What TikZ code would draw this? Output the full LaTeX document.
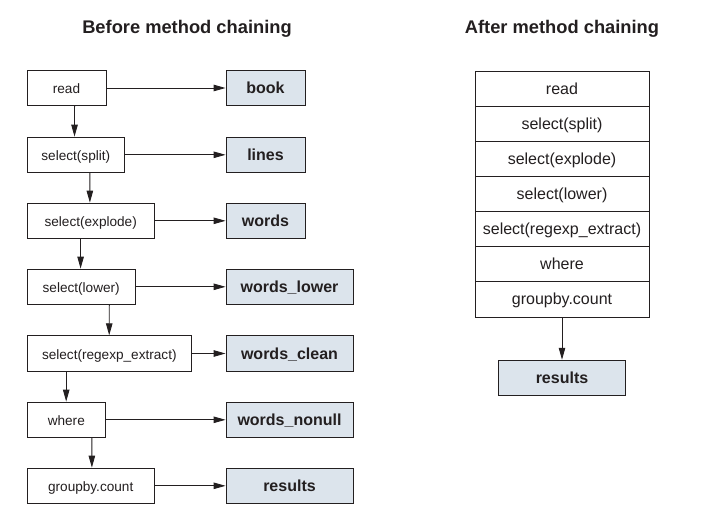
\documentclass[tikz,border=0pt]{standalone}
\usepackage{fontspec}
\setmainfont{Liberation Sans}
\usetikzlibrary{arrows.meta}
\definecolor{ink}{RGB}{35,31,32}
\definecolor{datafill}{RGB}{220,228,236}
\tikzset{
  box/.style={draw=ink, line width=0.9pt, inner sep=0pt, text=ink, text height=12pt, text depth=0pt},
  opbox/.style={box, fill=white, font=\fontsize{13.6}{16}\selectfont, minimum height=35.5pt},
  databox/.style={box, fill=datafill, font=\fontsize{16}{19}\selectfont\bfseries, minimum height=35.5pt},
  stackbox/.style={box, fill=white, font=\fontsize{16}{19}\selectfont, minimum width=174pt, minimum height=35.1pt, text height=11pt},
  arr/.style={draw=ink, line width=0.9pt, -{Triangle[length=12pt,width=6.5pt]}},
  title/.style={font=\fontsize{18.3}{22}\selectfont\bfseries, text=ink, inner sep=0pt}
}
\begin{document}
\begin{tikzpicture}[x=1pt,y=-1pt]
\useasboundingbox (0,0) rectangle (714,518);
% titles
\node[title] (t1) at (187,29) {Before method chaining};
\node[title] (t2) at (562,29) {After method chaining};
% left operation boxes
\node[opbox, minimum width=79pt]    (read)    at (66.5,88)   {read};
\node[opbox, minimum width=97.7pt]  (split)   at (75.8,154.8) {select(split)};
\node[opbox, minimum width=127.3pt] (explode) at (90.7,220.8) {select(explode)};
\node[opbox, minimum width=108.3pt] (lower)   at (81.2,286.8) {select(lower)};
\node[opbox, minimum width=164.7pt] (regexp)  at (109.3,353.5) {select(regexp\_extract)};
\node[opbox, minimum width=78.7pt]  (where)   at (66.3,419.8) {where};
\node[opbox, minimum width=127.3pt] (group)   at (90.7,485.8) {groupby.count};
% data boxes
\node[databox, minimum width=79pt]  (book)   at (265.5,88)    {book};
\node[databox, minimum width=79pt]  (lines)  at (265.5,154.8) {lines};
\node[databox, minimum width=79pt]  (words)  at (265.5,220.8) {words};
\node[databox, minimum width=127pt] (wlower) at (289.5,286.8) {words\_lower};
\node[databox, minimum width=127pt] (wclean) at (289.5,353.5) {words\_clean};
\node[databox, minimum width=127pt] (wnon)   at (289.5,419.8) {words\_nonull};
\node[databox, minimum width=127pt] (res1)   at (289.5,485.8) {results};
% horizontal arrows
\draw[arr] (read) -- (book);
\draw[arr] (split) -- (lines);
\draw[arr] (explode) -- (words);
\draw[arr] (lower) -- (wlower);
\draw[arr] (regexp) -- (wclean);
\draw[arr] (where) -- (wnon);
\draw[arr] (group) -- (res1);
% vertical arrows
\draw[arr] ([xshift=48pt]read.south west) -- ([xshift=48pt]split.north west);
\draw[arr] ([xshift=63.3pt]split.south west) -- ([xshift=63.3pt]explode.north west);
\draw[arr] ([xshift=54pt]explode.south west) -- ([xshift=54pt]lower.north west);
\draw[arr] ([xshift=82.7pt]lower.south west) -- ([xshift=82.7pt]regexp.north west);
\draw[arr] ([xshift=39.7pt]regexp.south west) -- ([xshift=39.7pt]where.north west);
\draw[arr] ([xshift=65.3pt]where.south west) -- ([xshift=65.3pt]group.north west);
% right stack
\node[stackbox] (s1) at (562,88.8)  {read};
\node[stackbox] (s2) at (562,123.9) {select(split)};
\node[stackbox] (s3) at (562,159.0) {select(explode)};
\node[stackbox] (s4) at (562,194.1) {select(lower)};
\node[stackbox] (s5) at (562,229.2) {select(regexp\_extract)};
\node[stackbox] (s6) at (562,264.3) {where};
\node[stackbox] (s7) at (562,299.4) {groupby.count};
\node[databox, minimum width=127.5pt, minimum height=35pt] (res2) at (562,377.7) {results};
\draw[arr] (s7) -- (res2);
\end{tikzpicture}
\end{document}
